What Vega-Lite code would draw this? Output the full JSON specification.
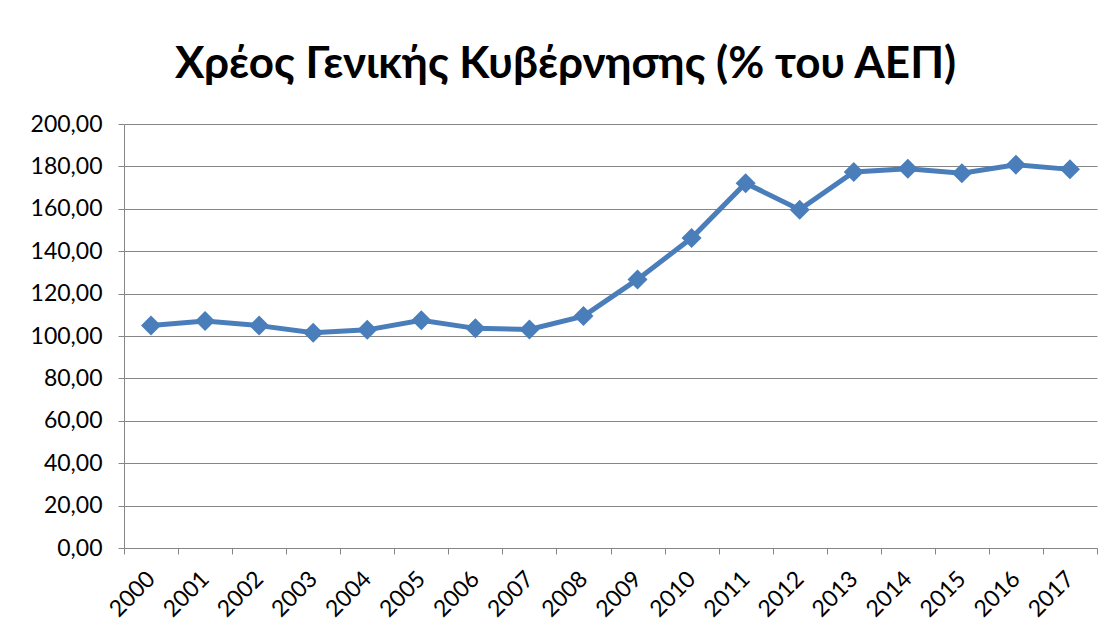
{
  "$schema": "https://vega.github.io/schema/vega-lite/v6.json",
  "autosize": {"type": "none"},
  "width": 973,
  "height": 424,
  "padding": {"left": 124, "top": 124, "right": 13, "bottom": 87},
  "background": "white",
  "config": {
    "locale": {"number": {"decimal": ",", "thousands": ".", "grouping": [3], "currency": ["", " €"]}},
    "view": {"stroke": null},
    "font": "Lato"
  },
  "title": {
    "text": "Χρέος Γενικής Κυβέρνησης (% του ΑΕΠ)",
    "font": "Lato",
    "fontSize": 44,
    "fontWeight": "bold",
    "color": "#000000",
    "anchor": "middle",
    "frame": "group",
    "dx": -45,
    "offset": 26
  },
  "data": {
    "values": [
      {"year": "2000", "debt": 104.9},
      {"year": "2001", "debt": 107.1},
      {"year": "2002", "debt": 104.9},
      {"year": "2003", "debt": 101.5},
      {"year": "2004", "debt": 102.9},
      {"year": "2005", "debt": 107.4},
      {"year": "2006", "debt": 103.6},
      {"year": "2007", "debt": 103.1},
      {"year": "2008", "debt": 109.4},
      {"year": "2009", "debt": 126.7},
      {"year": "2010", "debt": 146.2},
      {"year": "2011", "debt": 172.1},
      {"year": "2012", "debt": 159.6},
      {"year": "2013", "debt": 177.4},
      {"year": "2014", "debt": 178.9},
      {"year": "2015", "debt": 176.8},
      {"year": "2016", "debt": 180.8},
      {"year": "2017", "debt": 178.6}
    ]
  },
  "encoding": {
    "x": {
      "field": "year",
      "type": "ordinal",
      "scale": {"type": "band", "paddingInner": 0, "paddingOuter": 0},
      "axis": {
        "title": null,
        "tickBand": "extent",
        "labelAngle": -45,
        "labelAlign": "right",
        "labelBaseline": "middle",
        "labelFont": "Lato",
        "labelFontSize": 23,
        "labelColor": "#000000",
        "labelPadding": 21,
        "domainColor": "#868686",
        "tickColor": "#868686",
        "tickSize": 6,
        "grid": false
      }
    },
    "y": {
      "field": "debt",
      "type": "quantitative",
      "scale": {"domain": [0, 200], "nice": false},
      "axis": {
        "title": null,
        "values": [0, 20, 40, 60, 80, 100, 120, 140, 160, 180, 200],
        "format": ".2f",
        "labelFont": "Lato",
        "labelFontSize": 23,
        "labelColor": "#000000",
        "labelPadding": 16,
        "domainColor": "#868686",
        "tickColor": "#868686",
        "tickSize": 6,
        "grid": true,
        "gridColor": "#868686",
        "gridOpacity": 1,
        "gridWidth": 1
      }
    }
  },
  "layer": [
    {
      "mark": {"type": "line", "color": "#4A7EBB", "strokeWidth": 5}
    },
    {
      "mark": {"type": "point", "shape": "diamond", "filled": true, "color": "#4A7EBB", "opacity": 1, "size": 400}
    }
  ]
}
